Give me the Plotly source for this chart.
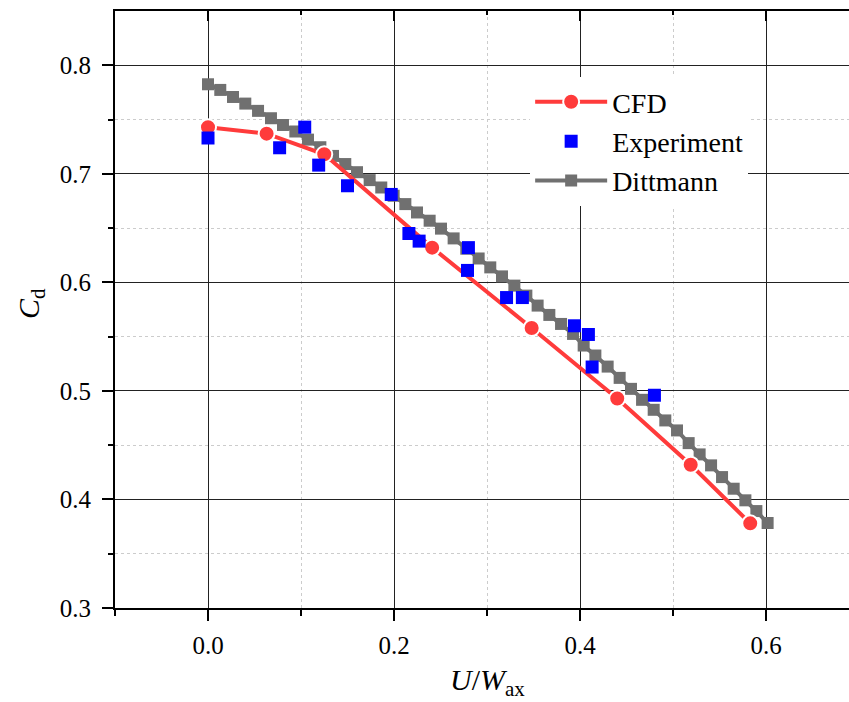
import plotly.graph_objects as go

# ---------------- data ----------------
cfd_x = [0.0, 0.063, 0.125, 0.241, 0.348, 0.440, 0.519, 0.583]
cfd_y = [0.743, 0.737, 0.718, 0.632, 0.558, 0.493, 0.432, 0.378]

exp_x = [0.0, 0.077, 0.104, 0.119, 0.150, 0.197, 0.216, 0.227,
         0.280, 0.279, 0.321, 0.338, 0.394, 0.409, 0.413, 0.480]
exp_y = [0.733, 0.724, 0.743, 0.708, 0.689, 0.681, 0.645, 0.638,
         0.632, 0.611, 0.586, 0.586, 0.560, 0.552, 0.522, 0.496]

dit_x = [0.0000, 0.0132, 0.0269, 0.0401, 0.0538, 0.0677, 0.0806, 0.0939,
         0.1075, 0.1208, 0.1344, 0.1476, 0.1602, 0.1738, 0.1863, 0.1996,
         0.2122, 0.2247, 0.2383, 0.2505, 0.2641, 0.2777, 0.2910, 0.3035,
         0.3161, 0.3294, 0.3423, 0.3544, 0.3670, 0.3796, 0.3925, 0.4039,
         0.4165, 0.4297, 0.4426, 0.4548, 0.4667, 0.4792, 0.4917, 0.5043,
         0.5168, 0.5286, 0.5409, 0.5527, 0.5652, 0.5778, 0.5896, 0.6017]
dit_y = [0.7825, 0.7773, 0.7708, 0.7647, 0.7580, 0.7512, 0.7450, 0.7390,
         0.7315, 0.7245, 0.7165, 0.7090, 0.7015, 0.6942, 0.6874, 0.6798,
         0.6721, 0.6644, 0.6568, 0.6495, 0.6405, 0.6310, 0.6220, 0.6138,
         0.6055, 0.5970, 0.5878, 0.5786, 0.5700, 0.5617, 0.5525, 0.5418,
         0.5326, 0.5224, 0.5120, 0.5019, 0.4918, 0.4826, 0.4728, 0.4636,
         0.4519, 0.4415, 0.4314, 0.4206, 0.4099, 0.3992, 0.3893, 0.3783]

x_major = [0.0, 0.2, 0.4, 0.6]
x_minor = [-0.1, 0.1, 0.3, 0.5, 0.7]
y_major = [0.3, 0.4, 0.5, 0.6, 0.7, 0.8]
y_minor = [0.35, 0.45, 0.55, 0.65, 0.75]

x_range = [-0.1, 0.6892]
y_range = [0.3, 0.85]

RED = "#FF3B3B"
BLUE = "#0000FF"
GRAY = "#707070"
FONT = "Liberation Serif"

fig = go.Figure()

fig.add_trace(go.Scatter(
    x=dit_x, y=dit_y, name="Dittmann", mode="lines+markers",
    line=dict(color=GRAY, width=4),
    marker=dict(symbol="square", size=12, color=GRAY),
    legendrank=3,
))
fig.add_trace(go.Scatter(
    x=cfd_x, y=cfd_y, name="CFD", mode="lines+markers",
    line=dict(color=RED, width=4),
    marker=dict(symbol="circle", size=16, color=RED,
                line=dict(color="white", width=2)),
    legendrank=1,
))
fig.add_trace(go.Scatter(
    x=exp_x, y=exp_y, name="Experiment", mode="markers",
    marker=dict(symbol="square", size=13, color=BLUE),
    legendrank=2,
))
# helper trace so that the top (mirror) axis is drawn
fig.add_trace(go.Scatter(x=[None], y=[None], xaxis="x2", yaxis="y",
                         showlegend=False, hoverinfo="skip"))

tickfont = dict(family=FONT, size=25, color="black")

fig.update_layout(
    width=849, height=702,
    margin=dict(l=115, r=0, t=11, b=94),
    paper_bgcolor="white", plot_bgcolor="white",
    font=dict(family=FONT, size=25, color="black"),
    hovermode=False,
    showlegend=True,
    legend=dict(
        x=0.5656, y=0.8894, xanchor="left", yanchor="top",
        bgcolor="white", borderwidth=0,
        font=dict(family=FONT, size=28, color="black"),
        itemwidth=72, tracegroupgap=0,
    ),
    xaxis=dict(
        range=x_range, tickvals=x_major, tickformat=".1f",
        ticks="outside", ticklen=11, tickwidth=2, tickcolor="black",
        showline=True, linewidth=2, linecolor="black",
        showgrid=True, gridcolor="#222222", gridwidth=1,
        zeroline=False, tickfont=tickfont, ticklabelstandoff=3,
        minor=dict(tickmode="array", tickvals=x_minor, ticks="outside",
                   ticklen=6, tickwidth=2, tickcolor="black",
                   showgrid=True, gridcolor="#cccccc", griddash="dot",
                   gridwidth=1),
    ),
    xaxis2=dict(
        overlaying="x", side="top", range=x_range, tickvals=x_major,
        ticks="inside", ticklen=10, tickwidth=2, tickcolor="black",
        showticklabels=False, showgrid=False, zeroline=False,
        showline=True, linewidth=2, linecolor="black",
        minor=dict(tickmode="array", tickvals=x_minor, ticks="inside",
                   ticklen=4, tickwidth=2, tickcolor="black", showgrid=False),
    ),
    yaxis=dict(
        range=y_range, tickvals=y_major, tickformat=".1f",
        ticks="outside", ticklen=11, tickwidth=2, tickcolor="black",
        showline=True, linewidth=2, linecolor="black",
        showgrid=True, gridcolor="#222222", gridwidth=1,
        zeroline=False, tickfont=tickfont, ticklabelstandoff=6,
        minor=dict(tickmode="array", tickvals=y_minor, ticks="outside",
                   ticklen=5, tickwidth=2, tickcolor="black",
                   showgrid=True, gridcolor="#cccccc", griddash="dot",
                   gridwidth=1),
    ),
    annotations=[
        dict(text="<i>U</i>/<i>W</i><sub>ax</sub>", xref="paper", yref="paper",
             x=0.507, y=-0.124, xanchor="center", yanchor="middle",
             showarrow=False, font=dict(family=FONT, size=30, color="black")),
        dict(text="<i>C</i><sub>d</sub>", xref="paper", yref="paper",
             x=-0.115, y=0.51, xanchor="center", yanchor="middle",
             textangle=-90, showarrow=False,
             font=dict(family=FONT, size=30, color="black")),
    ],
)

fig.write_html("out.html")
